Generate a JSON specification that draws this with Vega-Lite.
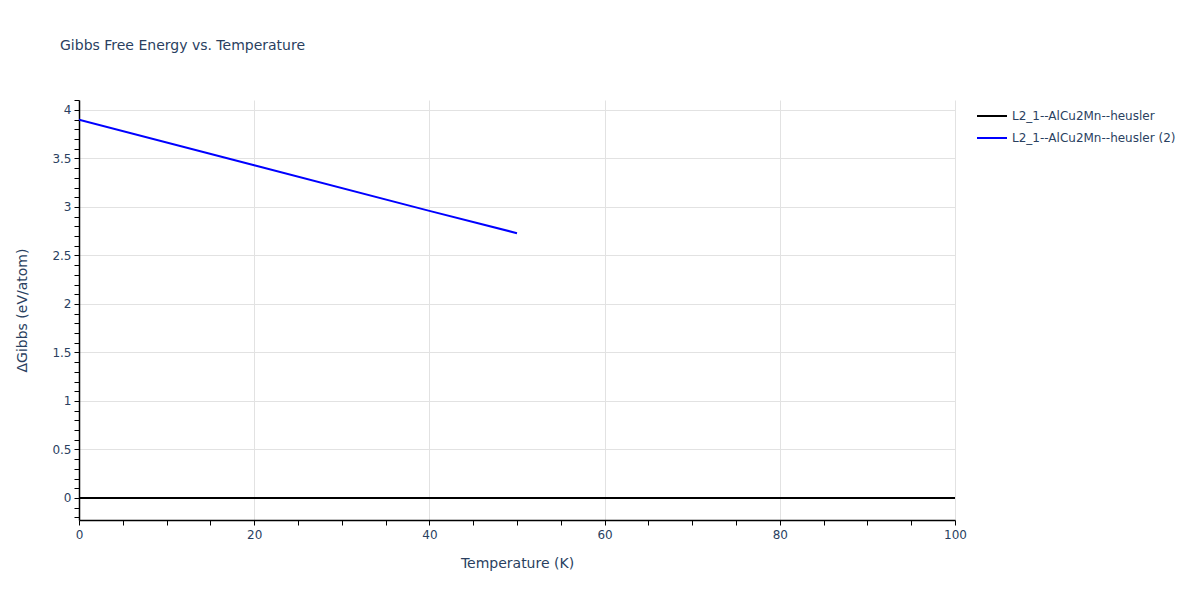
{
  "$schema": "https://vega.github.io/schema/vega-lite/v6.json",
  "width": 876,
  "height": 420,
  "autosize": {"type": "none"},
  "padding": {"left": 79, "top": 100, "right": 245, "bottom": 80},
  "background": "white",
  "title": {
    "text": "Gibbs Free Energy vs. Temperature",
    "anchor": "start",
    "frame": "group",
    "dx": -19,
    "offset": 41,
    "font": "DejaVu Sans",
    "fontSize": 14,
    "fontWeight": "normal",
    "color": "#2a3f5f"
  },
  "config": {
    "view": {"stroke": null},
    "font": "DejaVu Sans"
  },
  "data": {
    "values": [
      {"T": 0, "G": 0, "series": "L2_1--AlCu2Mn--heusler"},
      {"T": 100, "G": 0, "series": "L2_1--AlCu2Mn--heusler"},
      {"T": 0, "G": 3.9, "series": "L2_1--AlCu2Mn--heusler (2)"},
      {"T": 20, "G": 3.43, "series": "L2_1--AlCu2Mn--heusler (2)"},
      {"T": 40, "G": 2.96, "series": "L2_1--AlCu2Mn--heusler (2)"},
      {"T": 50, "G": 2.73, "series": "L2_1--AlCu2Mn--heusler (2)"}
    ]
  },
  "mark": {"type": "line", "strokeWidth": 2, "clip": true},
  "encoding": {
    "x": {
      "field": "T",
      "type": "quantitative",
      "scale": {"domain": [0, 100], "nice": false, "zero": false},
      "axis": {
        "title": "Temperature (K)",
        "values": [0, 5, 10, 15, 20, 25, 30, 35, 40, 45, 50, 55, 60, 65, 70, 75, 80, 85, 90, 95, 100],
        "labelExpr": "datum.value % 20 == 0 ? datum.label : ''",
        "gridOpacity": {"condition": {"test": "datum.value % 20 == 0", "value": 1}, "value": 0},
        "gridColor": "#e2e2e2",
        "gridWidth": 1,
        "domainColor": "#000000",
        "domainWidth": 1.5,
        "tickColor": "#000000",
        "tickSize": 5,
        "labelFont": "DejaVu Sans",
        "labelFontSize": 12,
        "labelColor": "#2a3f5f",
        "labelPadding": 4,
        "labelFlush": false,
        "labelOverlap": false,
        "titleFont": "DejaVu Sans",
        "titleFontSize": 14,
        "titleFontWeight": "normal",
        "titleColor": "#2a3f5f",
        "titleY": 43,
        "titleBaseline": "middle"
      }
    },
    "y": {
      "field": "G",
      "type": "quantitative",
      "scale": {"domain": [-0.227, 4.103], "nice": false, "zero": false},
      "axis": {
        "title": "ΔGibbs (eV/atom)",
        "values": [-0.2, -0.1, 0, 0.1, 0.2, 0.3, 0.4, 0.5, 0.6, 0.7, 0.8, 0.9, 1, 1.1, 1.2, 1.3, 1.4, 1.5, 1.6, 1.7, 1.8, 1.9, 2, 2.1, 2.2, 2.3, 2.4, 2.5, 2.6, 2.7, 2.8, 2.9, 3, 3.1, 3.2, 3.3, 3.4, 3.5, 3.6, 3.7, 3.8, 3.9, 4, 4.1],
        "format": "~g",
        "labelExpr": "abs(datum.value * 2 - round(datum.value * 2)) < 0.001 ? datum.label : ''",
        "gridOpacity": {"condition": {"test": "abs(datum.value * 2 - round(datum.value * 2)) < 0.001", "value": 1}, "value": 0},
        "gridColor": "#e2e2e2",
        "gridWidth": 1,
        "domainColor": "#000000",
        "domainWidth": 1.5,
        "tickColor": "#000000",
        "tickSize": 5,
        "labelFont": "DejaVu Sans",
        "labelFontSize": 12,
        "labelColor": "#2a3f5f",
        "labelPadding": 3,
        "labelOverlap": false,
        "titleFont": "DejaVu Sans",
        "titleFontSize": 14,
        "titleFontWeight": "normal",
        "titleColor": "#2a3f5f",
        "titleX": -57,
        "titleY": 210,
        "titleBaseline": "middle",
        "titleAngle": -90
      }
    },
    "color": {
      "field": "series",
      "type": "nominal",
      "scale": {
        "domain": ["L2_1--AlCu2Mn--heusler", "L2_1--AlCu2Mn--heusler (2)"],
        "range": ["#000000", "#0000ff"]
      },
      "legend": {
        "title": null,
        "orient": "none",
        "legendX": 897,
        "legendY": 0,
        "symbolType": "stroke",
        "symbolSize": 900,
        "symbolStrokeWidth": 2,
        "rowPadding": -14,
        "labelFont": "DejaVu Sans",
        "labelFontSize": 12,
        "labelColor": "#2a3f5f",
        "labelOffset": 4,
        "labelLimit": 400
      }
    }
  }
}
